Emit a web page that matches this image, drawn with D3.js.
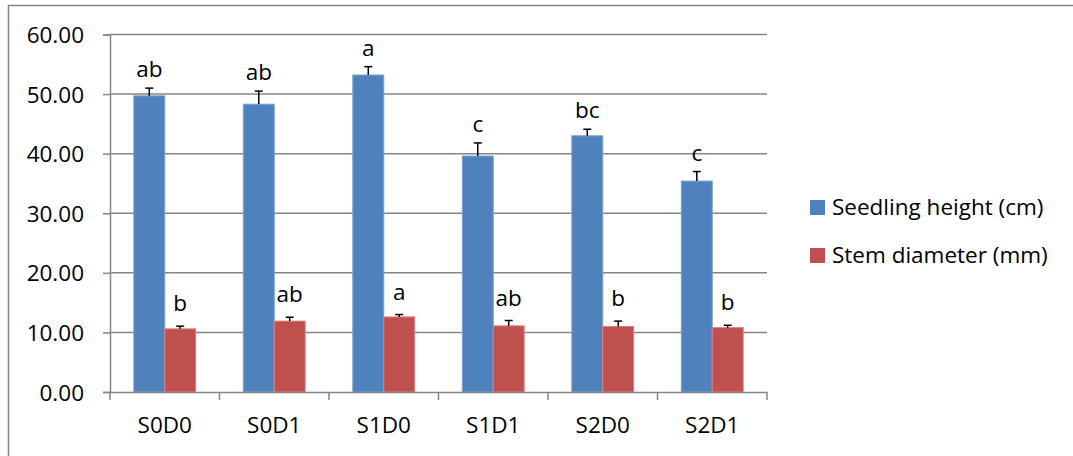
<!DOCTYPE html>
<html><head><meta charset="utf-8">
<script src="https://cdn.jsdelivr.net/npm/d3@7"></script>
<style>html,body{margin:0;padding:0;background:#fff;} svg{display:block;font-family:"Open Sans",sans-serif;}</style>
</head><body>
<svg id="c" width="1073" height="456"></svg>
<script>
const categories = ["S0D0","S0D1","S1D0","S1D1","S2D0","S2D1"];
const seriesNames = ["Seedling height (cm)","Stem diameter (mm)"];
const heightVals = [49.7, 48.3, 53.2, 39.6, 43.0, 35.4];
const heightErr  = [1.3, 2.2, 1.4, 2.2, 1.1, 1.6];
const heightLetters = ["ab","ab","a","c","bc","c"];
const diamVals = [10.6, 11.9, 12.6, 11.1, 11.0, 10.8];
const diamErr  = [0.45, 0.65, 0.4, 0.9, 0.9, 0.4];
const diamLetters = ["b","ab","a","ab","b","b"];
const yTicks = [0,10,20,30,40,50,60];
const colors = ["#4F81BD","#C0504D"];
const edges = ["#7BA0CD","#D7827F"];

const FONT = "Open Sans";
const FS = 22.5;
const svg = d3.select("#c");
const L = 110, R = 767, T = 34.5, B = 392;

svg.append("rect").attr("x",8.5).attr("y",5.5).attr("width",1200).attr("height",600)
  .attr("fill","none").attr("stroke","#868686").attr("stroke-width",1.5);

const x = d3.scaleBand().domain(categories).range([L,R]).paddingInner(0).paddingOuter(0);
const xs = d3.scaleBand().domain([0,1]).range([0, x.bandwidth()]).paddingInner(0).paddingOuter(0.77);
const y = d3.scaleLinear().domain([0,60]).range([B,T]);

// gridlines
svg.append("g").selectAll("line").data(yTicks.filter(d=>d>0)).join("line")
  .attr("x1",L).attr("x2",R).attr("y1",d=>y(d)).attr("y2",d=>y(d))
  .attr("stroke","#868686").attr("stroke-width",1.5);

// y axis
const ya = svg.append("g").attr("transform",`translate(${L},0)`)
  .call(d3.axisLeft(y).tickValues(yTicks).tickFormat(d3.format(".2f")).tickSize(7).tickPadding(19));
ya.select(".domain").attr("stroke","#868686").attr("stroke-width",1.5);
ya.selectAll(".tick line").attr("stroke","#868686").attr("stroke-width",1.5);
ya.selectAll("text").attr("font-size",FS).attr("fill","#000").attr("font-family",FONT).attr("dy","0.36em");

// bars
const series = [
  {vals:heightVals, err:heightErr, letters:heightLetters},
  {vals:diamVals, err:diamErr, letters:diamLetters}
];
series.forEach((s,si)=>{
  const g = svg.append("g");
  const data = categories.map((c,i)=>({c, v:s.vals[i], e:s.err[i], l:s.letters[i]}));
  g.selectAll("rect").data(data).join("rect")
    .attr("x",d=>x(d.c)+xs(si)).attr("width",xs.bandwidth())
    .attr("y",d=>y(d.v)).attr("height",d=>y(0)-y(d.v))
    .attr("fill",colors[si]).attr("stroke",edges[si]).attr("stroke-width",1);
  const cx = d=>x(d.c)+xs(si)+xs.bandwidth()/2;
  g.selectAll("line.stem").data(data).join("line").attr("class","stem")
    .attr("x1",cx).attr("x2",cx).attr("y1",d=>y(d.v)).attr("y2",d=>y(d.v+d.e))
    .attr("stroke","#000").attr("stroke-width",1.5);
  g.selectAll("line.cap").data(data).join("line").attr("class","cap")
    .attr("x1",d=>cx(d)-4).attr("x2",d=>cx(d)+4).attr("y1",d=>y(d.v+d.e)).attr("y2",d=>y(d.v+d.e))
    .attr("stroke","#000").attr("stroke-width",1.5);
  g.selectAll("text").data(data).join("text")
    .attr("x",cx).attr("y",d=>y(d.v+d.e)-(si===0?11:15))
    .attr("text-anchor","middle").attr("font-size",FS).attr("font-family",FONT).attr("fill","#000").text(d=>d.l);
});

// x axis
const xa = svg.append("g").attr("transform",`translate(0,${B})`)
  .call(d3.axisBottom(x).tickSize(0).tickPadding(25));
xa.select(".domain").attr("stroke","#868686").attr("stroke-width",1.5);
xa.selectAll("text").attr("font-size",FS).attr("fill","#000").attr("font-family",FONT);
const bounds = categories.map(c=>x(c)).concat([x(categories[categories.length-1])+x.bandwidth()]);
xa.selectAll("line.bt").data(bounds).join("line").attr("class","bt")
  .attr("x1",d=>d).attr("x2",d=>d).attr("y1",0).attr("y2",8)
  .attr("stroke","#868686").attr("stroke-width",1.5);

// legend
const lg = svg.append("g");
seriesNames.forEach((n,i)=>{
  const yy = 200 + i*48;
  lg.append("rect").attr("x",810).attr("y",yy).attr("width",15).attr("height",15).attr("fill",colors[i]);
  lg.append("text").attr("x",832).attr("y",yy+15).attr("font-size",FS).attr("font-family",FONT).attr("fill","#000").text(n);
});
</script>
</body></html>
